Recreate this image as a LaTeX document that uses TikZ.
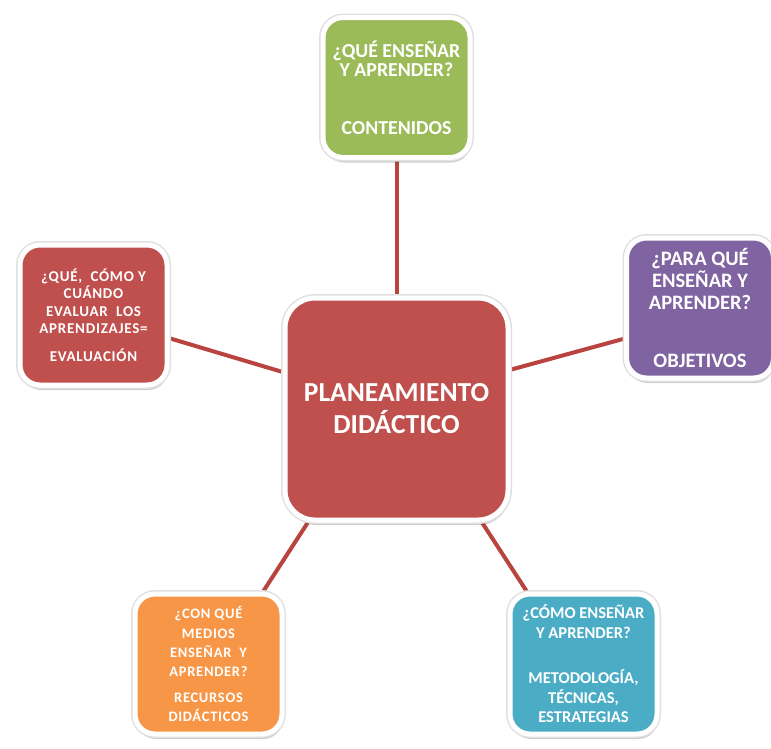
\documentclass[tikz,border=0pt]{standalone}
\usepackage{fontspec}
\setmainfont{Carlito}
\newfontfamily\boxfont{Carlito}[BoldFont=* Bold]
\newfontfamily\widefont{Carlito}[BoldFont=* Bold,LetterSpace=5]
\usetikzlibrary{shadows,backgrounds}
\definecolor{cgreen}{HTML}{9BBB59}
\definecolor{cpurple}{HTML}{8064A2}
\definecolor{cred}{HTML}{C0504D}
\definecolor{corange}{HTML}{F79646}
\definecolor{cblue}{HTML}{4BACC6}
\definecolor{clink}{HTML}{B8433F}
\tikzset{
  card/.style={rounded corners=20pt, draw=white, line width=5pt, text=white,
    align=center, inner sep=0pt,
    minimum width=147pt, minimum height=140pt,
    drop shadow={shadow xshift=1pt, shadow yshift=-5pt, opacity=.2, fill=black},
    drop shadow={shadow xshift=0.5pt, shadow yshift=-3.5pt, opacity=.2, fill=black},
    preaction={draw=black!12, line width=8pt}},
  bigcard/.style={card, rounded corners=30pt, minimum width=223pt, minimum height=222pt},
  link/.style={draw=clink, line width=4pt}
}
\begin{document}
\begin{tikzpicture}[x=1pt,y=-1pt]
\useasboundingbox (0,0) rectangle (771,748);
\node[bigcard, fill=cred, font=\boxfont\bfseries\fontsize{27.5}{32}\selectfont] (c) at (396.5,409)
  {PLANEAMIENTO\\DIDÁCTICO};
\node[card, fill=cgreen, font=\boxfont\bfseries\fontsize{19.8}{19}\selectfont] (t) at (396.5,87.5)
  {¿QUÉ ENSEÑAR\\Y APRENDER?\\[39pt]CONTENIDOS};
\node[card, fill=cpurple, font=\boxfont\bfseries\fontsize{20.5}{22}\selectfont] (p) at (700,308)
  {¿PARA QUÉ\\ENSEÑAR Y\\APRENDER?\\[36pt]OBJETIVOS};
\node[card, fill=cred, font=\widefont\bfseries\fontsize{15}{17.5}\selectfont] (l) at (93.5,315)
  {¿QUÉ,\ \ CÓMO Y\\CUÁNDO\\EVALUAR\ \ LOS\\APRENDIZAJES=\\[10pt]EVALUACIÓN};
\node[card, fill=corange, font=\widefont\bfseries\fontsize{14.5}{19.3}\selectfont] (o) at (208.5,664)
  {¿CON QUÉ\\MEDIOS\\ENSEÑAR\ \ Y\\APRENDER?\\[6pt]RECURSOS\\DIDÁCTICOS};
\node[card, fill=cblue, font=\boxfont\bfseries\fontsize{16.5}{19.5}\selectfont] (b) at (583.5,664)
  {¿CÓMO ENSEÑAR\\Y APRENDER?\\[26pt]METODOLOGÍA,\\TÉCNICAS,\\ESTRATEGIAS};
\begin{pgfonlayer}{background}
  \draw[link] (c.north) -- (t.south);
  \draw[link] (c.162) -- (l.-17);
  \draw[link] (c.19) -- (p.202);
  \draw[link] (c.232) -- (o.53);
  \draw[link] (c.307) -- (b.128);
\end{pgfonlayer}
\end{tikzpicture}
\end{document}
